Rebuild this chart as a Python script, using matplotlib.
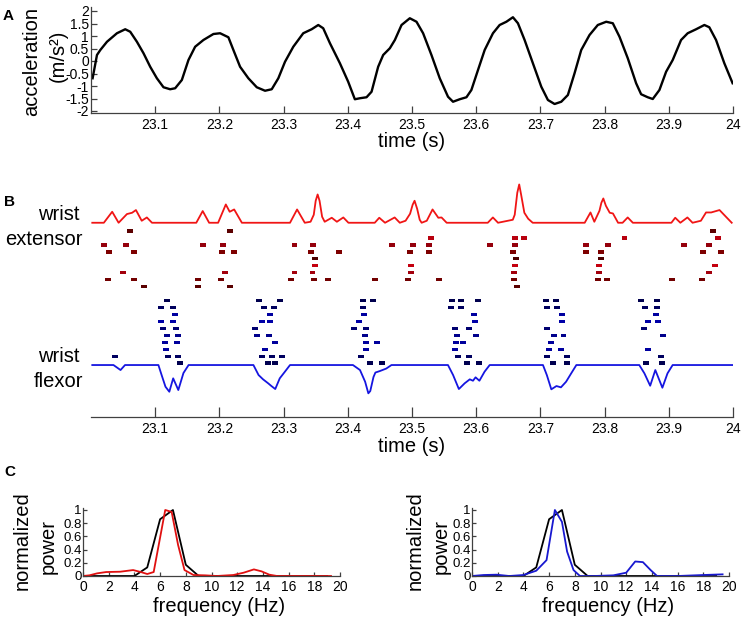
import matplotlib
matplotlib.use('Agg')
import matplotlib.pyplot as plt
import numpy as np

plt.rcParams['font.family'] = ['Liberation Sans', 'DejaVu Sans']

# ---------------- Panel A: acceleration ----------------
acc_t = [23.0025, 23.0093, 23.0145, 23.0249, 23.0404, 23.0533, 23.0611, 23.0715, 23.0818, 23.0922,
         23.1026, 23.1129, 23.1233, 23.1311, 23.1415, 23.1518, 23.1622, 23.1751, 23.1907, 23.2011,
         23.2140, 23.2218, 23.2322, 23.2451, 23.2582, 23.2711, 23.2815, 23.2918, 23.3022, 23.3151,
         23.3306, 23.3437, 23.3540, 23.3617, 23.3722, 23.3877, 23.4006, 23.4110, 23.4188, 23.4292,
         23.4370, 23.4473, 23.4551, 23.4655, 23.4733, 23.4837, 23.4966, 23.5070, 23.5173, 23.5303,
         23.5432, 23.5561, 23.5639, 23.5743, 23.5848, 23.5925, 23.6028, 23.6132, 23.6261, 23.6365,
         23.6470, 23.6572, 23.6650, 23.6754, 23.6883, 23.7014, 23.7117, 23.7221, 23.7325, 23.7428,
         23.7532, 23.7636, 23.7765, 23.7894, 23.8025, 23.8128, 23.8232, 23.8361, 23.8491, 23.8569,
         23.8672, 23.8750, 23.8854, 23.8958, 23.9061, 23.9191, 23.9294, 23.9425, 23.9554, 23.9631,
         23.9736, 23.9865, 23.9994]
acc_v = [-0.69, 0.24, 0.44, 0.77, 1.11, 1.27, 1.17, 0.77, 0.31, -0.23,
         -0.69, -1.05, -1.13, -1.09, -0.76, 0.04, 0.57, 0.84, 1.08, 1.11,
         0.95, 0.44, -0.23, -0.69, -1.05, -1.19, -1.13, -0.69, -0.03, 0.57,
         1.11, 1.27, 1.44, 1.31, 0.71, -0.09, -0.83, -1.53, -1.49, -1.45,
         -1.23, -0.23, 0.24, 0.51, 0.84, 1.44, 1.71, 1.57, 1.11, 0.24,
         -0.69, -1.43, -1.63, -1.53, -1.45, -1.16, -0.36, 0.44, 1.11, 1.44,
         1.57, 1.75, 1.51, 0.84, -0.09, -1.03, -1.56, -1.72, -1.63, -1.36,
         -0.49, 0.44, 1.04, 1.44, 1.57, 1.51, 0.97, 0.11, -0.89, -1.33,
         -1.45, -1.52, -1.16, -0.43, 0.04, 0.84, 1.11, 1.27, 1.44, 1.35,
         0.84, -0.09, -0.89]
acc_yticks = [-2, -1.5, -1, -0.5, 0, 0.5, 1, 1.5, 2]
acc_ytick_labels = ['-2', '-1.5', '-1', '-0.5', '0', '0.5', '1', '1.5', '2']
time_ticks = [23.1, 23.2, 23.3, 23.4, 23.5, 23.6, 23.7, 23.8, 23.9, 24.0]
time_tick_labels = ['23.1', '23.2', '23.3', '23.4', '23.5', '23.6', '23.7', '23.8', '23.9', '24']

# ---------------- Panel B: rates and spikes ----------------
ext_rate_t = [23.002, 23.020, 23.033, 23.043, 23.056, 23.064, 23.070, 23.079, 23.087, 23.095,
              23.164, 23.174, 23.184, 23.198, 23.210, 23.216, 23.223, 23.235,
              23.310, 23.321, 23.333, 23.342, 23.347, 23.350, 23.353, 23.356, 23.360, 23.364,
              23.375, 23.383, 23.393, 23.401,
              23.442, 23.449, 23.458, 23.473, 23.481, 23.490, 23.497, 23.501, 23.504, 23.508,
              23.512, 23.515, 23.523, 23.532, 23.541, 23.546, 23.554,
              23.618, 23.626, 23.634, 23.657, 23.660, 23.664, 23.667, 23.670, 23.675, 23.681, 23.688,
              23.769, 23.778, 23.784, 23.792, 23.795, 23.798, 23.802, 23.808, 23.813, 23.821,
              23.828, 23.836, 23.844,
              23.904, 23.910, 23.918, 23.929, 23.937, 23.950, 23.958, 23.966, 23.979, 23.989, 23.998]
ext_rate_v = [0, 0, 11, 0, 8.7, 10, 12.7, 2, 5.3, 0,
              0, 11.7, 0, 0, 18.3, 11, 13.3, 0,
              0, 13.3, 0, 1, 8, 22, 28.3, 22, 6, 1,
              5, 1, 5.3, 0,
              0, 5, 0, 5.3, 0, 2, 9, 18, 22, 14,
              3, 0, 2, 13.3, 5, 5.3, 0,
              0, 5.3, 0, 3, 8, 30, 38.3, 28, 10, 4, 0,
              0, 10.3, 1, 12, 20, 24.3, 17, 10, 9.3, 0,
              0, 5.3, 0,
              0, 5, 0, 5.3, 0, 2, 10.3, 10.3, 12.7, 6, 0]

flx_rate_t = [23.002, 23.035, 23.046, 23.053, 23.105, 23.110, 23.116, 23.122, 23.128, 23.136,
              23.144, 23.152,
              23.253, 23.261, 23.268, 23.276, 23.281, 23.287, 23.294, 23.302, 23.310,
              23.408, 23.419, 23.427, 23.432, 23.435, 23.440, 23.443, 23.450, 23.460, 23.468,
              23.556, 23.564, 23.573, 23.582, 23.590, 23.595, 23.599, 23.605, 23.613, 23.621,
              23.704, 23.710, 23.717, 23.725, 23.732, 23.740, 23.748, 23.756,
              23.854, 23.862, 23.871, 23.879, 23.890, 23.898, 23.906, 23.999]
flx_rate_v = [0, 0, 5, 0, 0, 10, 21.7, 26.7, 13.3, 25,
              8, 0,
              0, 10, 14.3, 18.3, 21, 24, 13.3, 6.7, 0,
              0, 5, 16.7, 28.3, 26, 12, 7.5, 6, 3.5, 0,
              0, 10, 24, 18.3, 14.3, 15.7, 12.3, 15.7, 6.7, 0,
              0, 10, 24.3, 21, 22.3, 16.7, 8.3, 0,
              0, 8.3, 20.7, 5, 22.7, 8.3, 0, 0]

ext_spikes = [
    [23.061, 23.217, 23.969],
    [23.530, 23.661, 23.674, 23.831, 23.977],
    [23.020, 23.055, 23.174, 23.205, 23.317, 23.346, 23.469, 23.501, 23.526, 23.621, 23.661,
     23.771, 23.806, 23.924, 23.963],
    [23.028, 23.067, 23.204, 23.222, 23.343, 23.386, 23.497, 23.526, 23.658, 23.771, 23.794,
     23.953, 23.982],
    [23.349, 23.662, 23.794],
    [23.349, 23.499, 23.660, 23.792, 23.972],
    [23.050, 23.208, 23.317, 23.345, 23.499, 23.659, 23.791, 23.962],
    [23.027, 23.067, 23.167, 23.202, 23.312, 23.347, 23.369, 23.443, 23.494, 23.542, 23.659,
     23.790, 23.804, 23.905, 23.951],
    [23.082, 23.166, 23.216, 23.663],
]
flx_spikes = [
    [23.118, 23.261, 23.294, 23.423, 23.439, 23.562, 23.577, 23.603, 23.709, 23.725, 23.857, 23.881],
    [23.109, 23.128, 23.269, 23.285, 23.423, 23.561, 23.576, 23.711, 23.726, 23.863, 23.882],
    [23.131, 23.279, 23.425, 23.597, 23.733, 23.880],
    [23.109, 23.128, 23.267, 23.279, 23.418, 23.598, 23.733, 23.868, 23.883],
    [23.112, 23.133, 23.256, 23.410, 23.429, 23.567, 23.589, 23.710, 23.861],
    [23.118, 23.136, 23.259, 23.278, 23.427, 23.570, 23.600, 23.721, 23.736, 23.891],
    [23.116, 23.134, 23.287, 23.429, 23.445, 23.568, 23.580, 23.716],
    [23.117, 23.271, 23.429, 23.567, 23.714, 23.732, 23.868],
    [23.038, 23.120, 23.135, 23.267, 23.282, 23.297, 23.421, 23.572, 23.589, 23.710, 23.742, 23.888],
    [23.138, 23.275, 23.287, 23.435, 23.453, 23.586, 23.605, 23.720, 23.742, 23.865, 23.889],
]
ext_colors = ['#5c0000', '#b8000e', '#95000c', '#7e0000', '#4e0000',
              '#c4000f', '#a3000c', '#720000', '#5a0000']
flx_colors = ['#00004e', '#00005e', '#0000a0', '#0000a8', '#000070',
              '#00008c', '#00009c', '#0000a0', '#000060', '#000050']

# ---------------- Panel C: spectra ----------------
acc_freq = [0, 1, 2, 3, 4, 5, 6, 7, 8, 9, 10, 11, 12, 13, 14, 15, 16, 17, 18, 19]
acc_pow = [0, 0, 0, 0, 0, 0.13, 0.86, 1.0, 0.17, 0, 0, 0, 0, 0, 0, 0, 0, 0, 0, 0]
ext_freq = [0, 0.5, 1.1, 1.8, 2.9, 3.9, 4.5, 5.0, 5.5, 6.4, 6.9, 7.4, 7.9, 8.6, 9.5, 10.4,
            11.7, 12.5, 13.3, 13.9, 14.5, 15.1, 16, 17, 18, 19.3]
ext_pow = [0, 0.01, 0.04, 0.06, 0.065, 0.09, 0.06, 0.03, 0.06, 1.0, 0.97, 0.47, 0.09, 0.015, 0.01, 0,
           0.015, 0.05, 0.1, 0.07, 0.02, 0, 0, 0, 0, 0]
flx_freq = [0, 0.9, 1.9, 2.9, 4.0, 5.0, 5.8, 6.45, 7.0, 7.4, 7.9, 8.4, 9.5, 11.0, 12.0, 12.7,
            13.3, 13.9, 14.4, 16, 18.0, 19.5]
flx_pow = [0, 0.015, 0.02, 0.0, 0.015, 0.08, 0.24, 1.0, 0.82, 0.37, 0.09, 0, 0, 0.01, 0.05, 0.22,
           0.21, 0.09, 0.0, 0, 0.015, 0.025]
freq_ticks = [0, 2, 4, 6, 8, 10, 12, 14, 16, 18, 20]
pow_ticks = [0, 0.2, 0.4, 0.6, 0.8, 1]
pow_tick_labels = ['0', '0.2', '0.4', '0.6', '0.8', '1']

# ---------------- Layout helpers ----------------
W, H = 744, 622
fig = plt.figure(figsize=(W / 100, H / 100), dpi=100)
SPINE = '#404040'
LAB = 14.5


def ax_px(l, t, r, b):
    return fig.add_axes([l / W, 1 - b / H, (r - l) / W, (b - t) / H])


def ftext(x, y, s, **kw):
    return fig.text(x / W, 1 - y / H, s, **kw)


def style(ax, left=True):
    for s in ['top', 'right']:
        ax.spines[s].set_visible(False)
    ax.spines['left'].set_visible(left)
    for s in ['left', 'bottom']:
        ax.spines[s].set_color(SPINE)
        ax.spines[s].set_linewidth(0.9)
    ax.patch.set_alpha(0)


# ---------------- Panel A ----------------
axA = ax_px(91, 7, 733, 113)
axA.plot(acc_t, acc_v, color='black', lw=1.7, solid_joinstyle='round')
axA.set_xlim(23.0, 24.0)
axA.set_ylim(-2.08, 2.16)
axA.set_yticks(acc_yticks)
axA.set_yticklabels(acc_ytick_labels)
axA.set_xticks(time_ticks)
axA.set_xticklabels(time_tick_labels)
style(axA)
axA.tick_params(axis='x', direction='in', length=5, width=0.9, color=SPINE, labelsize=10, pad=3.5)
axA.tick_params(axis='y', direction='in', length=4, width=0.9, color=SPINE, labelsize=10, pad=1.5)
ftext(32, 61, 'acceleration', rotation=90, ha='center', va='center', fontsize=LAB)
ftext(58, 56, '(m/s²)', rotation=90, ha='center', va='center', fontsize=LAB)
ftext(412, 141.5, 'time (s)', ha='center', va='center', fontsize=LAB)

# ---------------- Panel B ----------------
axB = ax_px(91, 178.9, 733, 417.3)
axB.set_xlim(23.0, 24.0)
axB.set_ylim(27.8, -6.5)
row_px = 6.95
ext_base = -0.19
flx_base = 20.28
spk_w = 0.0093
spk_h = 0.47
for i, row in enumerate(ext_spikes):
    axB.bar(row, spk_h, width=spk_w, bottom=(i + 1) - spk_h / 2, color=ext_colors[i], linewidth=0)
for j, row in enumerate(flx_spikes):
    axB.bar(row, spk_h, width=spk_w, bottom=(11 + j) - spk_h / 2, color=flx_colors[j], linewidth=0)
axB.plot(ext_rate_t, ext_base - np.array(ext_rate_v) / row_px, color='#f01515', lw=1.3,
         solid_joinstyle='round')
axB.plot(flx_rate_t, flx_base + np.array(flx_rate_v) / row_px, color='#1515e0', lw=1.3,
         solid_joinstyle='round')
axB.set_xticks(time_ticks)
axB.set_xticklabels(time_tick_labels)
axB.set_yticks([])
style(axB, left=False)
axB.tick_params(axis='x', direction='in', length=7, width=0.9, color=SPINE, labelsize=10, pad=3.5)
ftext(80, 220, 'wrist', ha='right', va='baseline', fontsize=LAB)
ftext(83, 245, 'extensor', ha='right', va='baseline', fontsize=LAB)
ftext(80, 362, 'wrist', ha='right', va='baseline', fontsize=LAB)
ftext(83, 387, 'flexor', ha='right', va='baseline', fontsize=LAB)
ftext(412, 446, 'time (s)', ha='center', va='center', fontsize=LAB)

# ---------------- Panel C ----------------
for (l, r, f2, p2, col, nx) in [(83, 340, ext_freq, ext_pow, '#e01010', 22),
                                 (472, 729, flx_freq, flx_pow, '#1818d0', 415)]:
    ax = ax_px(l, 508, r, 576)
    ax.plot(acc_freq, acc_pow, color='black', lw=1.3)
    ax.plot(f2, p2, color=col, lw=1.3)
    ax.set_xlim(0, 20)
    ax.set_ylim(0, 1.03)
    ax.set_xticks(freq_ticks)
    ax.set_yticks(pow_ticks)
    ax.set_yticklabels(pow_tick_labels)
    style(ax)
    ax.tick_params(axis='x', direction='in', length=3, width=0.9, color=SPINE, labelsize=10, pad=3)
    ax.tick_params(axis='y', direction='in', length=3, width=0.9, color=SPINE, labelsize=9.5, pad=1)
    ftext(nx, 541, 'normalized', rotation=90, ha='center', va='center', fontsize=LAB)
    ftext(nx + 26.5, 546, 'power', rotation=90, ha='center', va='center', fontsize=LAB)
    ftext((l + r) / 2 + 8, 607, 'frequency (Hz)', ha='center', va='center', fontsize=LAB)

# ---------------- Panel letters ----------------
ftext(3, 15.5, 'A', ha='left', va='center', fontsize=11, fontweight='bold')
ftext(4, 202, 'B', ha='left', va='center', fontsize=11, fontweight='bold')
ftext(4, 472, 'C', ha='left', va='center', fontsize=11, fontweight='bold')

fig.savefig('out.png', dpi=100)
